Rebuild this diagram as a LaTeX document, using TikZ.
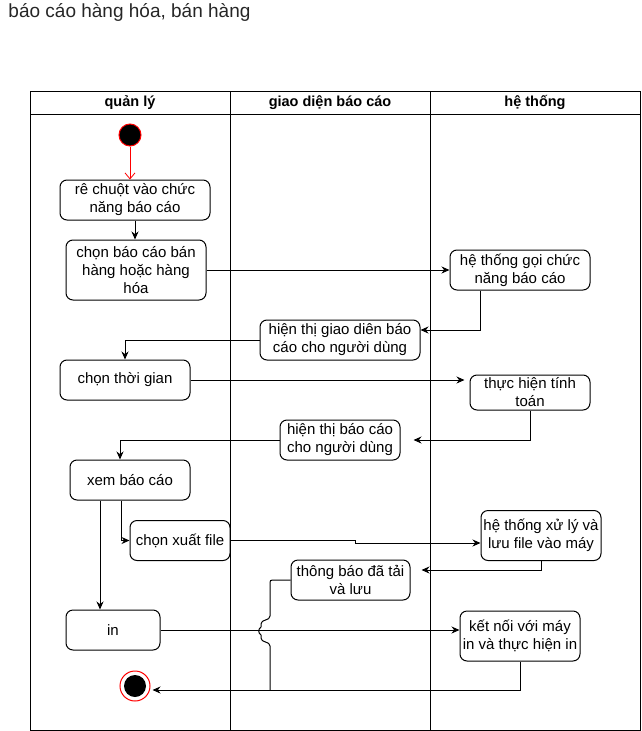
\documentclass[tikz,border=0pt]{standalone}
\usepackage{fontspec}
\setmainfont{Liberation Sans}
\usetikzlibrary{arrows.meta}

\tikzset{
  act/.style={draw, rounded corners=7pt, align=center, inner sep=1pt, font=\fontsize{15}{18}\selectfont},
  lane/.style={font=\bfseries\fontsize{14.5}{16}\selectfont},
  flow/.style={-{Stealth[length=8pt,width=7pt]}},
}

\begin{document}
\begin{tikzpicture}[x=1pt,y=-1pt,line width=1pt]
        \useasboundingbox (0,0) rectangle (641,731);

        \node[anchor=base west, inner sep=0pt, text=black!85, font=\fontsize{19}{22}\selectfont] (title) at (8,17) {báo cáo hàng hóa, bán hàng};

        % swimlanes
        \draw (30,91) rectangle (640,730);
        \draw (30,114) -- (640,114);
        \draw (230,91) -- (230,730);
        \draw (430,91) -- (430,730);
        \node[lane] (lane1) at (130,102.5) {quản lý};
        \node[lane] (lane2) at (330,102.5) {giao diện báo cáo};
        \node[lane] (lane3) at (535,102.5) {hệ thống};

        \node[circle, draw=red, fill=black, minimum size=22pt, inner sep=0pt] (start) at (130,135) {};
        \node[act, minimum width=150pt, minimum height=40pt] (n1) at (135,200) {rê chuột vào chức\\năng báo cáo};
        \node[act, minimum width=140pt, minimum height=60pt] (n2) at (136,270) {chọn báo cáo bán\\hàng hoặc hàng\\hóa};
        \node[act, minimum width=140pt, minimum height=40pt] (n3) at (520,270) {hệ thống gọi chức\\năng báo cáo};
        \node[act, minimum width=160pt, minimum height=40pt] (n4) at (340,340) {hiện thị giao diên báo\\cáo cho người dùng};
        \node[act, minimum width=130pt, minimum height=40pt] (n5) at (125,380) {chọn thời gian};
        \node[act, minimum width=120pt, minimum height=35pt] (n6) at (530,392.5) {thực hiện tính\\toán};
        \node[act, minimum width=120pt, minimum height=40pt] (n7) at (340,440) {hiện thị báo cáo\\cho người dùng};
        \node[act, minimum width=120pt, minimum height=40pt] (n8) at (130,480) {xem báo cáo};
        \node[act, minimum width=100pt, minimum height=40pt] (n9) at (180,540.5) {chọn xuất file};
        \node[act, minimum width=120pt, minimum height=50pt] (n11) at (541,535.5) {hệ thống xử lý và\\lưu file vào máy};
        \node[act, minimum width=119pt, minimum height=40pt] (n12) at (350.5,580) {thông báo đã tải\\và lưu};
        \node[act, minimum width=94pt, minimum height=40pt] (n10) at (113,630) {in};
        \node[act, minimum width=120pt, minimum height=50pt] (n13) at (520,636) {kết nối với máy\\in và thực hiện in};
        \node[circle, draw=red, fill=white, minimum size=30pt, inner sep=0pt] (stop) at (135,686) {};
        \node[circle, fill=black, minimum size=22pt, inner sep=0pt] (stopdot) at (stop) {};

        \coordinate (jog) at (355,543);
        \coordinate (merge) at (270,690);

        \draw[red, line width=0.8pt, -{Straight Barb[length=6pt,width=10pt]}] (start) -- (start |- n1.north);
        \draw[flow] (n1.south) -- (n1.south |- n2.north);
        \draw[flow] (n2) -- (n3);
        \draw[flow] ([xshift=-40pt]n3.south) |- ([yshift=10pt]n4.east);
        \draw[flow] (n4.west) -| (n5.north);
        \draw[flow] (n5.east) -- ([xshift=-5pt]n5.east -| n6.west);
        \draw[flow] (n6.south) |- ([xshift=13pt]n7.east);
        \draw[flow] (n7.west) -| ([xshift=-10pt]n8.north);
        \draw[flow] ([xshift=-9pt]n8.south) |- (n9.west);
        \draw[flow] ([xshift=-30pt]n8.south) -- ([xshift=-30pt]n8.south |- n10.north);
        \draw[flow] (n9.east) -| (jog) -- (jog -| n11.west);
        \draw[flow] (n11.south) |- ([xshift=11pt,yshift=10pt]n12.east);
        \draw[flow] (n10.east) -- (n10.east -| n13.west);
        \draw[flow] (n13.south) |- ([xshift=2pt]stop.east |- merge);
        \draw (n12.west) -- (275,580) .. controls (270,580) .. (270,585) -- (270,616)
            .. controls (270,621) and (261,619) .. (261,624) -- (261,627)
            .. controls (258,629) and (258,633) .. (261,635) -- (261,638)
            .. controls (261,643) and (270,641) .. (270,646) -- (merge);

    \end{tikzpicture}
\end{document}
